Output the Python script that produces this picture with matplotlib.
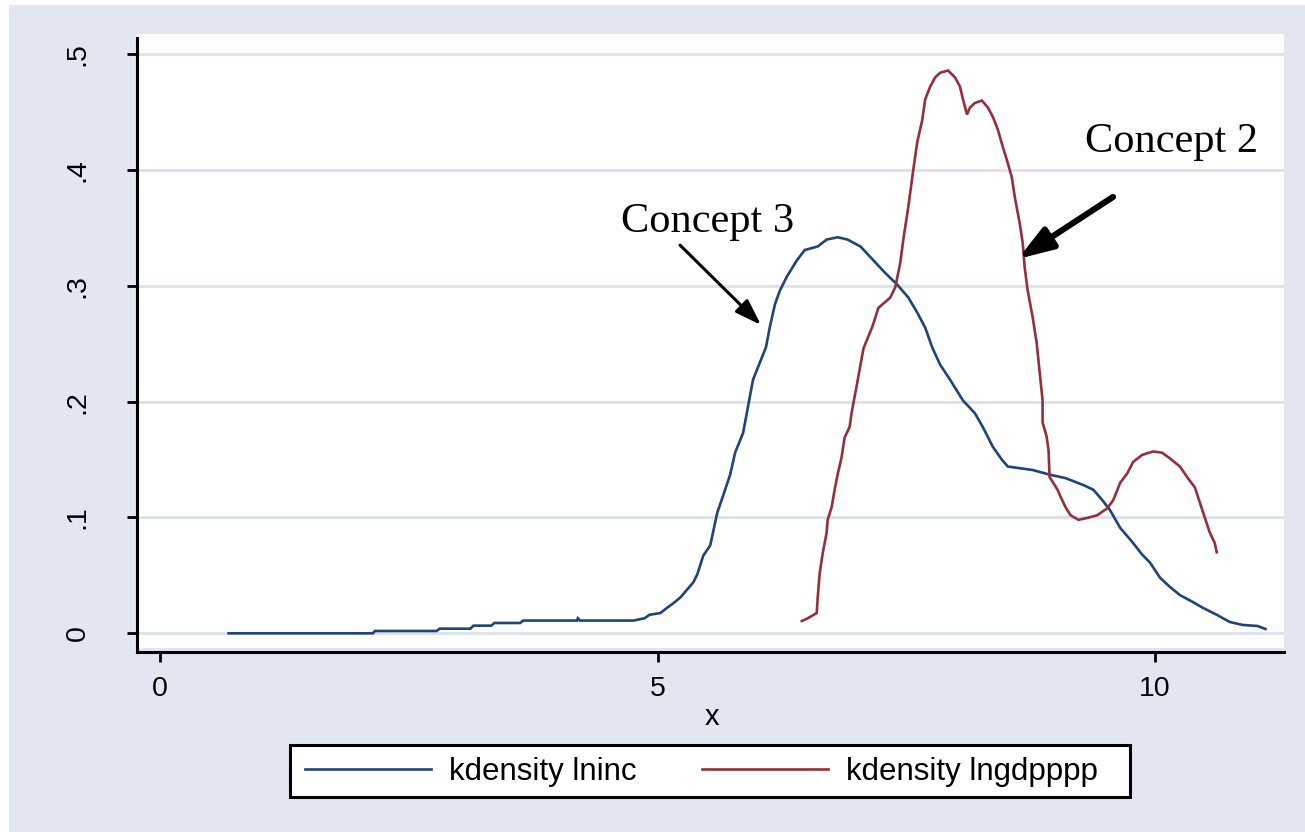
import matplotlib
matplotlib.use("Agg")
import matplotlib.pyplot as plt
from matplotlib.patches import Rectangle
from matplotlib.lines import Line2D

# ---------------- data ----------------
lninc_x = [0.69, 2.14, 2.16, 2.78, 2.81, 3.12, 3.15, 3.33, 3.36, 3.62,
           3.65, 4.19, 4.20, 4.22, 4.76, 4.87, 4.92, 5.03, 5.08, 5.16,
           5.23, 5.30, 5.36, 5.40, 5.46, 5.53, 5.60, 5.66, 5.73, 5.78,
           5.86, 5.91, 5.96, 6.09, 6.13, 6.18, 6.23, 6.30, 6.40, 6.48,
           6.61, 6.70, 6.81, 6.91, 7.04, 7.17, 7.29, 7.41, 7.52, 7.61,
           7.69, 7.76, 7.84, 7.94, 8.07, 8.19, 8.27, 8.37, 8.46, 8.52,
           8.77, 8.94, 9.10, 9.28, 9.38, 9.47, 9.55, 9.65, 9.77, 9.87,
           9.95, 10.05, 10.15, 10.25, 10.38, 10.48, 10.62, 10.75, 10.88, 11.03,
           11.11]
lninc_y = [0.000, 0.000, 0.002, 0.002, 0.004, 0.004, 0.0066, 0.0066, 0.0089, 0.0089,
           0.011, 0.011, 0.013, 0.011, 0.011, 0.013, 0.016, 0.0175, 0.021, 0.026,
           0.031, 0.038, 0.044, 0.051, 0.067, 0.076, 0.104, 0.119, 0.137, 0.156,
           0.173, 0.196, 0.219, 0.247, 0.265, 0.284, 0.296, 0.308, 0.322, 0.331,
           0.334, 0.340, 0.342, 0.340, 0.334, 0.322, 0.311, 0.301, 0.290, 0.277,
           0.264, 0.247, 0.232, 0.219, 0.201, 0.190, 0.178, 0.161, 0.150, 0.144,
           0.141, 0.137, 0.134, 0.128, 0.124, 0.115, 0.106, 0.091, 0.079, 0.068,
           0.061, 0.048, 0.040, 0.033, 0.027, 0.022, 0.016, 0.0098, 0.0072, 0.0063,
           0.0037]

lngdp_x = [6.45, 6.51, 6.60, 6.61, 6.63, 6.66, 6.70, 6.71, 6.75, 6.78,
           6.81, 6.85, 6.88, 6.93, 6.95, 6.98, 7.00, 7.07, 7.16, 7.22,
           7.34, 7.39, 7.44, 7.47, 7.52, 7.57, 7.61, 7.66, 7.69, 7.74,
           7.79, 7.84, 7.92, 7.99, 8.04, 8.07, 8.11, 8.14, 8.19, 8.26,
           8.32, 8.37, 8.42, 8.47, 8.51, 8.56, 8.59, 8.64, 8.67, 8.69,
           8.72, 8.77, 8.81, 8.87, 8.87, 8.91, 8.93, 8.94, 9.02, 9.05,
           9.10, 9.15, 9.23, 9.32, 9.42, 9.52, 9.58, 9.65, 9.72, 9.78,
           9.87, 9.98, 10.07, 10.15, 10.25, 10.33, 10.40, 10.45, 10.50, 10.55,
           10.60, 10.62]
lngdp_y = [0.0106, 0.013, 0.0175, 0.031, 0.052, 0.069, 0.087, 0.098, 0.109, 0.124,
           0.137, 0.152, 0.169, 0.178, 0.190, 0.204, 0.213, 0.246, 0.265, 0.281,
           0.290, 0.299, 0.320, 0.340, 0.368, 0.400, 0.424, 0.443, 0.461, 0.472,
           0.480, 0.484, 0.486, 0.480, 0.472, 0.461, 0.448, 0.454, 0.458, 0.460,
           0.454, 0.446, 0.435, 0.420, 0.409, 0.394, 0.377, 0.354, 0.337, 0.316,
           0.296, 0.273, 0.251, 0.201, 0.182, 0.170, 0.158, 0.135, 0.124, 0.118,
           0.109, 0.102, 0.098, 0.0996, 0.102, 0.108, 0.115, 0.130, 0.138, 0.148,
           0.154, 0.157, 0.156, 0.151, 0.144, 0.134, 0.126, 0.113, 0.100, 0.087,
           0.078, 0.070]

x_ticks = [0, 5, 10]
x_tick_labels = ["0", "5", "10"]
y_ticks = [0, 0.1, 0.2, 0.3, 0.4, 0.5]
y_tick_labels = ["0", ".1", ".2", ".3", ".4", ".5"]
x_label = "x"
legend_labels = ["kdensity lninc", "kdensity lngdpppp"]
annotation_texts = ["Concept 3", "Concept 2"]

# ---------------- style ----------------
BG = "#E1E6F0"
GRID = "#DCE2EE"
BLUE = "#1F4477"
RED = "#962F3A"
SANS = ["Liberation Sans", "DejaVu Sans"]
SERIF = ["Liberation Serif", "DejaVu Serif"]
plt.rcParams["font.family"] = SANS

W, H = 1305, 832
fig = plt.figure(figsize=(W / 100, H / 100), dpi=100, facecolor="white")
# light blue-grey graph region with small white margin at top/left
fig.patches.append(Rectangle((9 / W, 0), 1 - 9 / W, 1 - 5 / H,
                             transform=fig.transFigure, facecolor=BG,
                             edgecolor="none", zorder=-10))

ax = fig.add_axes([137 / W, 1 - 648 / H, (1284 - 137) / W, (648 - 34) / H])
ax.set_facecolor("white")

ax.plot(lninc_x, lninc_y, color=BLUE, lw=1.9, label=legend_labels[0],
        solid_joinstyle="miter", zorder=3)
ax.plot(lngdp_x, lngdp_y, color=RED, lw=1.9, label=legend_labels[1],
        solid_joinstyle="miter", zorder=3)

ax.set_xlim(-0.231, 11.296)
ax.set_ylim(-0.0127, 0.5175)

ax.set_xticks(x_ticks)
ax.set_xticklabels(x_tick_labels)
ax.set_yticks(y_ticks)
ax.set_yticklabels(y_tick_labels, va="center")

ax.tick_params(axis="both", which="major", length=7.5, width=2.0,
               color="black", labelsize=20.5)
ax.tick_params(axis="x", pad=9.5)
ax.tick_params(axis="y", pad=26, labelrotation=90)

ax.yaxis.grid(True, color=GRID, lw=2.2, zorder=1)
ax.xaxis.grid(False)
ax.set_axisbelow(True)

for s in ("top", "right"):
    ax.spines[s].set_visible(False)
for s in ("left", "bottom"):
    ax.spines[s].set_linewidth(2.2)
    ax.spines[s].set_color("black")
ax.spines["bottom"].set_position(("outward", 3))
ax.spines["left"].set_bounds(-0.0161, 0.514)

ax.set_xlabel(x_label, fontsize=21, va="center")
ax.xaxis.set_label_coords((712 - 137) / 1147, (648 - 717) / 614)

# annotations
ax.text(4.63, 0.3466, annotation_texts[0], family=SERIF, fontsize=30.5,
        va="baseline", ha="left", zorder=5)
ax.text(9.30, 0.4156, annotation_texts[1], family=SERIF, fontsize=30.5,
        va="baseline", ha="left", zorder=5)
ax.annotate("", xy=(6.040, 0.2662), xytext=(5.226, 0.3352),
            arrowprops=dict(arrowstyle="-|>,head_length=0.8,head_width=0.27",
                            mutation_scale=20, lw=2.2, color="black",
                            shrinkA=0, shrinkB=0), zorder=5)
ax.annotate("", xy=(8.623, 0.3233), xytext=(9.578, 0.3768),
            arrowprops=dict(arrowstyle="-|>,head_length=1.05,head_width=0.36",
                            mutation_scale=20, lw=4.4, color="black",
                            shrinkA=0, shrinkB=0), zorder=5)

# legend: frame drawn as a rectangle, entries placed by the legend
fig.patches.append(Rectangle((290 / W, 1 - 797 / H), 840 / W, 52 / H,
                             transform=fig.transFigure, facecolor="white",
                             edgecolor="black", lw=2.2, zorder=4))
handles = [Line2D([], [], color=BLUE, lw=1.9), Line2D([], [], color=RED, lw=1.9)]
leg = fig.legend(handles, legend_labels, loc="center left", ncol=2,
                 bbox_to_anchor=(305 / W, 1 - 772 / H),
                 fontsize=22.5, handlelength=4.03, handletextpad=0.58,
                 columnspacing=2.08, borderpad=0, borderaxespad=0,
                 frameon=False)
leg.set_zorder(6)

fig.savefig("out.png", dpi=100, facecolor=fig.get_facecolor())
